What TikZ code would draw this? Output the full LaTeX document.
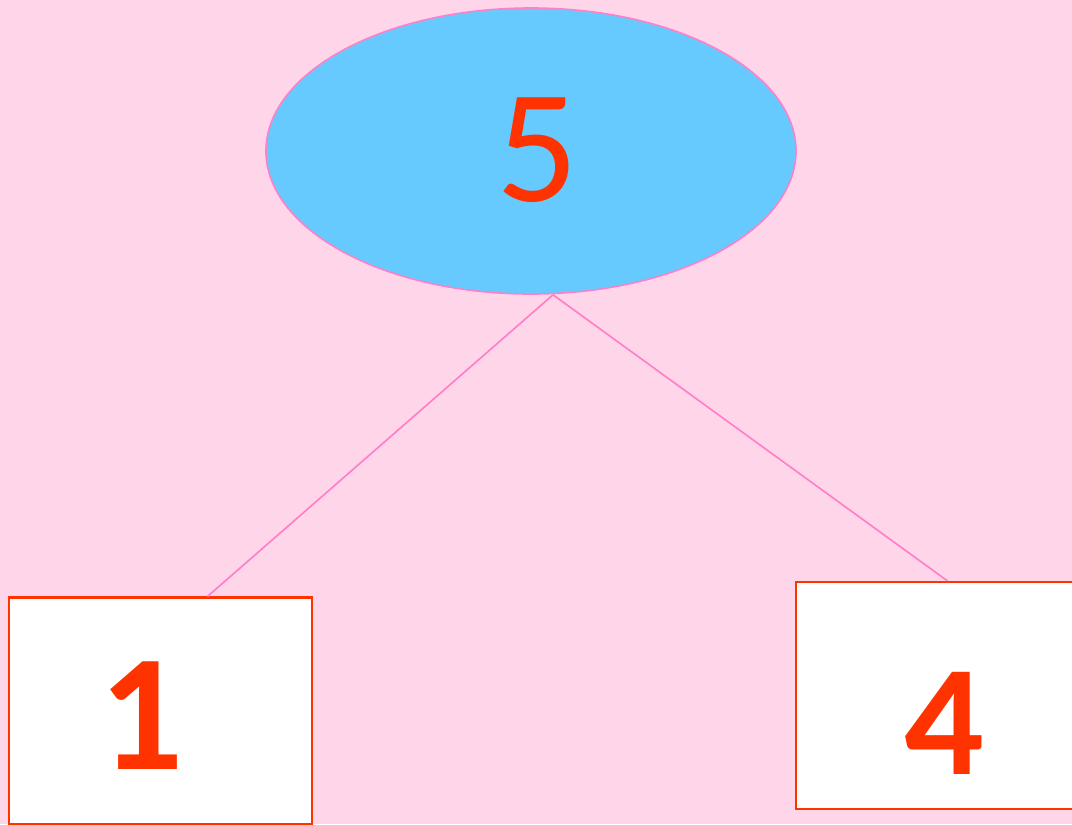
\documentclass[tikz,border=0pt]{standalone}
\usepackage{fontspec}
\setmainfont{Carlito}
\usetikzlibrary{shapes.geometric}

\definecolor{bgpink}{HTML}{FFD6E9}
\definecolor{skyblue}{HTML}{66CAFF}
\definecolor{linepink}{HTML}{FF80C8}
\definecolor{digitred}{HTML}{FF3300}

\begin{document}
\begin{tikzpicture}[x=0.025cm, y=-0.025cm,
    rootnode/.style={ellipse, draw=linepink, line width=1.1pt, fill=skyblue,
        minimum width=13.25cm, minimum height=7.15cm, inner sep=0pt},
    leafbox/.style={rectangle, draw=digitred, line width=1.5pt, fill=white,
        minimum width=7.575cm, minimum height=5.675cm, inner sep=0pt},
    digit/.style={text=digitred, font=\fontsize{115}{120}\selectfont, inner sep=0pt},
    edge/.style={draw=linepink, line width=1.2pt}]
    \fill[bgpink] (0,0) rectangle (1072,824);
    \useasboundingbox (0,0) rectangle (1072,824);

    % Root
    \node[rootnode] (root) at (531,151) {};
    \node[digit] (five) at (537,150) {5};

    % Leaves
    \node[leafbox] (left) at (160.5,711) {};
    \node[digit, font=\fontsize{118}{120}\selectfont\bfseries] (one) at (142,716) {1};
    \node[leafbox] (right) at (947.5,695.5) {};
    \node[digit, font=\fontsize{112}{120}\selectfont\bfseries] (four) at (944,723) {4};

    % Links
    \draw[edge] ([xshift=0.55cm]root.south) -- ([xshift=1.175cm]left.north);
    \draw[edge] ([xshift=0.55cm]root.south) -- (right.north);
\end{tikzpicture}
\end{document}
